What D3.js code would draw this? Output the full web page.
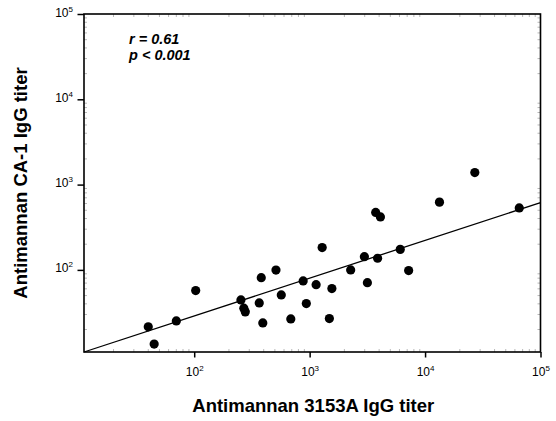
<!DOCTYPE html>
<html>
<head>
<meta charset="utf-8">
<script src="https://cdn.jsdelivr.net/npm/d3@7"></script>
<style>
  body { margin: 0; background: #fff; }
  text { font-family: Arial, "Liberation Sans", sans-serif; }
</style>
</head>
<body>
<div id="chart"></div>
<script>
// titers, one pair per patient
const xTiter = [40, 45, 70, 103, 254, 269, 277, 366, 381, 393,
                511, 568, 687, 879, 936, 1138, 1284, 1482, 1558, 2268,
                2981, 3165, 3880, 3735, 4105, 6095, 7208, 13330, 26980, 65460]
const yTiter = [21.5, 13.5, 25.2, 57.2, 44.5, 35.6, 32.2, 41.0, 81.0, 23.9,
                99.5, 50.9, 26.6, 74.3, 40.3, 67.1, 182.6, 26.9, 60.4, 100,
                142.8, 70.8, 137, 472, 418, 174, 98.1, 623, 1383, 533]

// ends of the fitted line (x, y)
const fitX = [11.1, 100000]
const fitY = [10.9, 615]

const tickValues = [100, 1000, 10000, 100000]
const tickExps = ["2", "3", "4", "5"]
const stats = ["r = 0.61", "p < 0.001"]

const gc = {
    width: 556,
    height: 421,
    plot: { left: 84, right: 540.5, top: 14, bottom: 352 },
    domain: { x: [11.1, 100000], y: [10.9, 100000] },
    dot: { r: 4.6 },
    tick: { major: 5.5, minor: 3 },
    label: { size: 12, sup: 8 },
    title: { size: 18.5 },
    stats: { size: 14.5, step: 16.5 }
}

const svg = d3.select("#chart").append("svg")
    .attr("width", gc.width)
    .attr("height", gc.height)

const x = d3.scaleLog().domain(gc.domain.x).range([gc.plot.left, gc.plot.right])
const y = d3.scaleLog().domain(gc.domain.y).range([gc.plot.bottom, gc.plot.top])

function minorTicks(domain) {
    const out = []
    for (let e = 1; e < 5; e++) {
        for (let m = 2; m <= 9; m++) {
            const v = m * Math.pow(10, e)
            if (v > domain[0] && v < domain[1]) out.push(v)
        }
    }
    return out
}

function drawLabel(g, exp) {
    g.append("tspan").text("10")
    g.append("tspan")
        .attr("dy", -5)
        .style("font-size", gc.label.sup + "px")
        .text(exp)
}

// minor ticks, faint, inside the frame
const minor = svg.append("g")
    .style("stroke", "#999")
    .style("stroke-width", 0.7)

minorTicks(gc.domain.x).forEach(v => {
    minor.append("line")
        .attr("x1", x(v)).attr("x2", x(v))
        .attr("y1", gc.plot.bottom).attr("y2", gc.plot.bottom - gc.tick.minor)
    minor.append("line")
        .attr("x1", x(v)).attr("x2", x(v))
        .attr("y1", gc.plot.top).attr("y2", gc.plot.top + gc.tick.minor)
})
minorTicks(gc.domain.y).forEach(v => {
    minor.append("line")
        .attr("y1", y(v)).attr("y2", y(v))
        .attr("x1", gc.plot.left).attr("x2", gc.plot.left + gc.tick.minor)
    minor.append("line")
        .attr("y1", y(v)).attr("y2", y(v))
        .attr("x1", gc.plot.right).attr("x2", gc.plot.right - gc.tick.minor)
})

// bottom axis
const xAxis = svg.append("g")
    .attr("transform", "translate(0," + gc.plot.bottom + ")")
    .call(d3.axisBottom(x).tickValues(tickValues).tickSize(gc.tick.major).tickFormat(""))
xAxis.select(".domain").remove()
xAxis.selectAll(".tick line").style("stroke", "#000").style("stroke-width", 1.5)
xAxis.selectAll(".tick").each(function (d, i) {
    const t = d3.select(this).append("text")
        .attr("y", 24)
        .attr("text-anchor", "middle")
        .attr("fill", "#000")
        .style("font-size", gc.label.size + "px")
    drawLabel(t, tickExps[i])
})

// left axis
const yAxis = svg.append("g")
    .attr("transform", "translate(" + gc.plot.left + ",0)")
    .call(d3.axisLeft(y).tickValues(tickValues).tickSize(gc.tick.major + 1).tickFormat(""))
yAxis.select(".domain").remove()
yAxis.selectAll(".tick line").style("stroke", "#000").style("stroke-width", 1.5)
yAxis.selectAll(".tick").each(function (d, i) {
    const t = d3.select(this).append("text")
        .attr("x", -11)
        .attr("y", 2)
        .attr("text-anchor", "end")
        .attr("fill", "#000")
        .style("font-size", gc.label.size + "px")
    drawLabel(t, tickExps[i])
})

// frame
svg.append("rect")
    .attr("x", gc.plot.left)
    .attr("y", gc.plot.top)
    .attr("width", gc.plot.right - gc.plot.left)
    .attr("height", gc.plot.bottom - gc.plot.top)
    .style("fill", "none")
    .style("stroke", "#000")
    .style("stroke-width", 1.6)

// fitted line
svg.append("path")
    .datum(d3.zip(fitX, fitY))
    .attr("d", d3.line().x(d => x(d[0])).y(d => y(d[1])))
    .style("fill", "none")
    .style("stroke", "#000")
    .style("stroke-width", 1.3)

// points
svg.append("g")
    .selectAll("circle")
    .data(d3.zip(xTiter, yTiter))
    .join("circle")
    .attr("cx", d => x(d[0]))
    .attr("cy", d => y(d[1]))
    .attr("r", gc.dot.r)
    .style("fill", "#000")

// r and p
svg.append("g")
    .selectAll("text")
    .data(stats)
    .join("text")
    .attr("x", 129)
    .attr("y", (d, i) => 43.5 + i * gc.stats.step)
    .style("font-size", gc.stats.size + "px")
    .style("font-weight", "bold")
    .style("font-style", "italic")
    .text(d => d)

// axis titles
svg.append("text")
    .attr("x", (gc.plot.left + gc.plot.right) / 2 + 1)
    .attr("y", 412)
    .attr("text-anchor", "middle")
    .style("font-size", gc.title.size + "px")
    .style("font-weight", "bold")
    .text("Antimannan 3153A IgG titer")

svg.append("text")
    .attr("transform", "translate(27," + 183 + ") rotate(-90)")
    .attr("text-anchor", "middle")
    .style("font-size", gc.title.size + "px")
    .style("font-weight", "bold")
    .text("Antimannan CA-1 IgG titer")
</script>
</body>
</html>
